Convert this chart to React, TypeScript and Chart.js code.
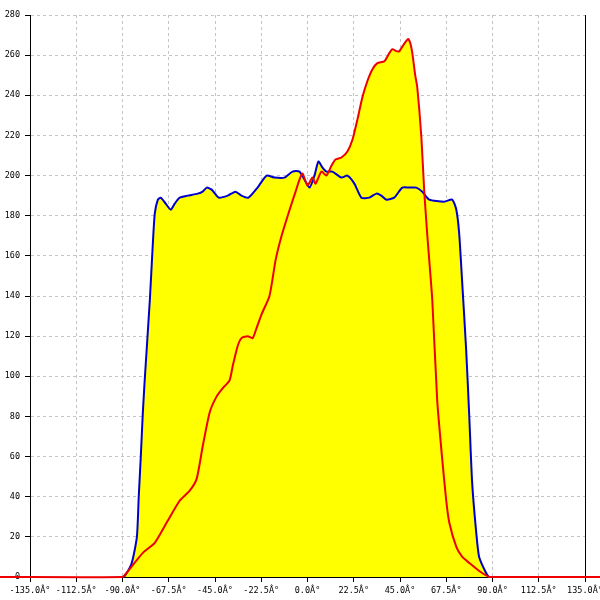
import React, { useEffect, useRef } from "react";
import { Chart, registerables } from "chart.js";

Chart.register(...registerables);

const blueAngles = [-90, -88.9, -85.5, -83.0, -82.1, -81.1, -80.1, -79.2, -76.7, -75.3, -74.3, -72.8, -71.4, -69.0, -66.5, -64.6, -62.2, -58.3, -53.4, -51.0, -49.0, -46.6, -43.2, -38.8, -35.0, -32.1, -28.7, -24.3, -19.9, -16.0, -11.2, -7.3, -3.9, -1.5, 1.0, 3.4, 5.3, 7.3, 9.2, 12.1, 16.5, 19.4, 22.8, 26.2, 30.1, 33.5, 35.9, 38.4, 42.2, 46.1, 49.5, 52.9, 55.8, 59.2, 66.5, 70.4, 72.4, 73.8, 75.3, 77.2, 78.7, 80.1, 82.1, 83.5, 86.9, 88.4, 90];
const blueValues = [0, 0.5, 7, 20, 40, 60, 82, 98, 138, 165, 181, 188, 189, 186, 183, 186, 189, 190, 191, 192, 194, 193, 189, 190, 192, 190, 189, 194, 200, 199, 199, 202, 202, 198, 194, 200, 207, 204, 202, 202, 199, 200, 196, 189, 189, 191, 190, 188, 189, 194, 194, 194, 192, 188, 187, 188, 183, 171, 146, 113, 80, 47, 22, 10, 2, 0, 0];

const redAngles = [-150, -90, -88.9, -80.1, -74.3, -68.0, -62.2, -57.3, -53.9, -51.0, -47.6, -44.2, -41.3, -37.9, -36.4, -34.0, -32.1, -29.1, -26.7, -24.8, -22.3, -18.5, -15.5, -12.6, -8.7, -5.8, -3.9, -2.4, 0, 2.4, 3.9, 6.8, 9.2, 11.7, 13.6, 16.5, 19.4, 21.9, 24.3, 26.7, 29.1, 31.6, 34.0, 37.4, 39.8, 41.3, 43.2, 44.7, 46.6, 49.0, 50.0, 51.0, 52.4, 53.4, 55.4, 56.8, 58.3, 60.7, 63.1, 65.6, 67.5, 69.0, 72.4, 75.3, 78.7, 83.5, 88.4, 90, 150];
const redValues = [0, 0, 1, 12, 17, 28, 38, 43, 49, 65, 82, 90, 94, 98, 105, 115, 119, 120, 119, 124, 131, 140, 158, 170, 183, 192, 198, 201, 195, 199, 196, 202, 200, 205, 208, 209, 212, 218, 228, 239, 247, 253, 256, 257, 261, 263, 262, 262, 265, 268, 266, 261, 250, 244, 219, 192, 170, 138, 88, 58, 38, 27, 15, 10, 7, 3, 0, 0, 0];

const xMin = -135;
const xMax = 135;
const xStep = 22.5;
const yMin = 0;
const yMax = 280;
const yStep = 20;

const toPoints = (xs: number[], ys: number[]) => xs.map((x, i) => ({ x, y: ys[i] }));

export default function App() {
  const ref = useRef<HTMLCanvasElement | null>(null);

  useEffect(() => {
    if (!ref.current) return;
    const font = { family: "'DejaVu Sans Mono', monospace", size: 8.5 };
    const chart = new Chart(ref.current, {
      type: "line",
      data: {
        datasets: [
          {
            label: "red",
            data: toPoints(redAngles, redValues),
            borderColor: "#ee0000",
            backgroundColor: "#ffff00",
            borderWidth: 2,
            pointRadius: 0,
            fill: "origin",
            tension: 0.2,
            clip: false as any,
          },
          {
            label: "blue",
            data: toPoints(blueAngles, blueValues),
            borderColor: "#0000cc",
            backgroundColor: "#ffff00",
            borderWidth: 2,
            pointRadius: 0,
            fill: "origin",
            tension: 0.2,
          },
        ],
      },
      options: {
        responsive: false,
        animation: false,
        layout: { padding: { top: 15, right: 0, left: 0, bottom: 0 } },
        plugins: {
          legend: { display: false },
          tooltip: { enabled: false },
          filler: { drawTime: "beforeDatasetsDraw" } as any,
        },
        scales: {
          x: {
            type: "linear",
            min: xMin,
            max: xMax,
            ticks: {
              stepSize: xStep,
              color: "#000",
              font,
              padding: 4,
              maxRotation: 0,
              autoSkip: false,
              callback: (v: any) => `${Number(v).toFixed(1)}Â°`,
            },
            grid: {
              color: "#c4c4c4",
              tickColor: "#000",
              tickLength: 5,
              lineWidth: 1,
            } as any,
            border: { display: true, color: "#000", width: 1, dash: [3, 3] } as any,
            afterFit: (s: any) => {
              s.height = 23;
              s.paddingLeft = 0;
              s.paddingRight = 0;
            },
          },
          y: {
            type: "linear",
            min: yMin,
            max: yMax,
            ticks: { stepSize: yStep, color: "#000", font, padding: 5 },
            grid: {
              color: "#c4c4c4",
              tickColor: "#000",
              tickLength: 5,
              lineWidth: 1,
            } as any,
            border: { display: true, color: "#000", width: 1, dash: [3, 3] } as any,
            afterFit: (s: any) => {
              s.width = 30;
              s.paddingTop = 0;
              s.paddingBottom = 0;
            },
          },
          y2: {
            type: "linear",
            position: "right",
            min: yMin,
            max: yMax,
            ticks: { display: false },
            grid: { display: false, drawOnChartArea: false },
            border: { display: true, color: "#000", width: 1 },
            afterFit: (s: any) => {
              s.width = 15;
            },
          },
        },
      },
    });
    return () => chart.destroy();
  }, []);

  return (
    <div style={{ position: "absolute", left: 0, top: 0, width: 600, height: 600, background: "#fff" }}>
      <canvas ref={ref} width={600} height={600} />
    </div>
  );
}
